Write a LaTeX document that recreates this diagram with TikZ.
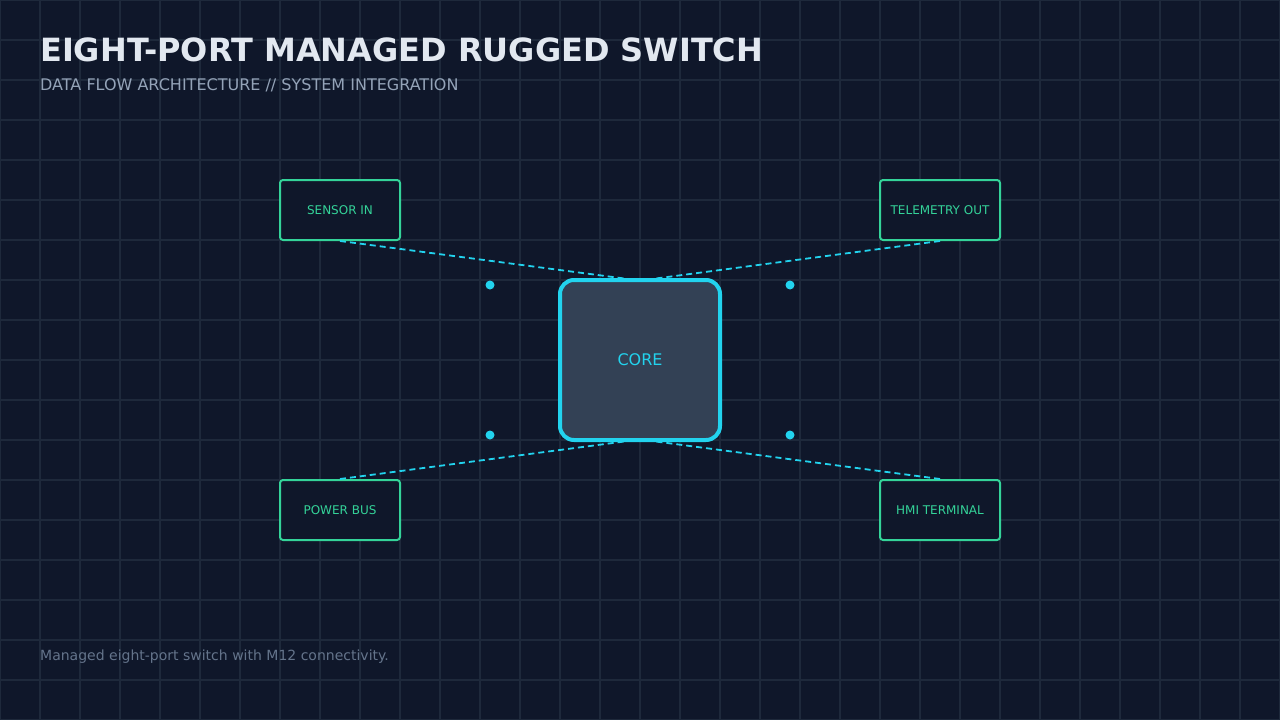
\documentclass[tikz,border=0pt]{standalone}
\usepackage{fontspec}
\setmainfont{DejaVu Sans}
\begin{document}
\begin{tikzpicture}[x=1pt,y=-1pt,
  port/.style={draw=portg,line width=2pt,fill=bg,rounded corners=3pt,minimum width=120pt,minimum height=60pt,text=portg,font=\fontsize{12}{14}\selectfont,inner sep=0pt},
  link/.style={draw=cyanc,line width=1.8pt,dash pattern=on 6pt off 4pt},
  dot/.style={fill=cyanc,circle,inner sep=0pt,minimum size=9pt}]
\definecolor{bg}{HTML}{0F172A}
\definecolor{gridc}{HTML}{1E293B}
\definecolor{portg}{HTML}{34D399}
\definecolor{cyanc}{HTML}{22D3EE}
\definecolor{corefill}{HTML}{334155}
\definecolor{titlec}{HTML}{E2E8F0}
\definecolor{subc}{HTML}{94A3B8}
\definecolor{footc}{HTML}{64748B}
\fill[bg] (0,0) rectangle (1280,720);
\useasboundingbox (0,0) rectangle (1280,720);
\foreach \x in {0,40,...,1280} \draw[gridc,line width=1.5pt] (\x,0) -- (\x,720);
\foreach \y in {0,40,...,720} \draw[gridc,line width=1.5pt] (0,\y) -- (1280,\y);
\node[anchor=base west,text=titlec,font=\bfseries\fontsize{32}{36}\selectfont,inner sep=0pt] (title) at (40,61) {EIGHT-PORT MANAGED RUGGED SWITCH};
\node[anchor=base west,text=subc,font=\fontsize{16}{18}\selectfont,inner sep=0pt] (sub) at (40,90) {DATA FLOW ARCHITECTURE // SYSTEM INTEGRATION};
\node[anchor=base west,text=footc,font=\fontsize{14}{16}\selectfont,inner sep=0pt] (foot) at (40,660) {Managed eight-port switch with M12 connectivity.};
\node[port] (s) at (340,210) {SENSOR IN};
\node[port] (t) at (940,210) {TELEMETRY OUT};
\node[port] (p) at (340,510) {POWER BUS};
\node[port] (h) at (940,510) {HMI TERMINAL};
\node[draw=cyanc,line width=4pt,fill=corefill,rounded corners=14pt,minimum width=160pt,minimum height=160pt,text=cyanc,font=\fontsize{16}{18}\selectfont] (core) at (640,360) {CORE};
\coordinate (cnw) at (628,279);
\coordinate (cne) at (652,279);
\coordinate (csw) at (628,441);
\coordinate (cse) at (652,441);
\draw[link] (s.south) -- (cnw);
\draw[link] (t.south) -- (cne);
\draw[link] (p.north) -- (csw);
\draw[link] (h.north) -- (cse);
\node[dot] (d1) at (490,285) {};
\node[dot] (d2) at (790,285) {};
\node[dot] (d3) at (490,435) {};
\node[dot] (d4) at (790,435) {};
\end{tikzpicture}
\end{document}
